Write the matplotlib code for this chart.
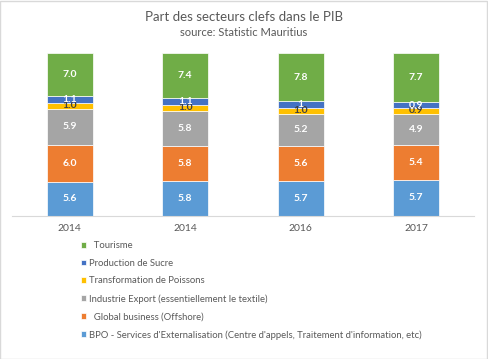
import matplotlib
matplotlib.use("Agg")
import matplotlib.pyplot as plt
from matplotlib.patches import Rectangle
import numpy as np

plt.rcParams['font.family'] = ['Lato', 'DejaVu Sans']

categories = ["2014", "2014", "2016", "2017"]
series_names = [
    "BPO - Services d'Externalisation (Centre d'appels, Traitement d'information, etc)",
    "  Global business (Offshore)",
    "Industrie Export (essentiellement le textile)",
    "Transformation de Poissons",
    "Production de Sucre",
    "  Tourisme",
]
bpo = [5.6, 5.8, 5.7, 5.7]
global_business = [6.0, 5.8, 5.6, 5.4]
industrie = [5.9, 5.8, 5.2, 4.9]
poissons = [1.0, 1.0, 1.0, 0.9]
sucre = [1.1, 1.1, 1, 0.9]
tourisme = [7.0, 7.4, 7.8, 7.7]
sucre_labels = ["1.1", "1.1", "1", "0.9"]

colors = ["#5B9BD5", "#ED7D31", "#A5A5A5", "#FFC000", "#4472C4", "#70AD47"]
label_colors = ["white", "white", "white", "#404040", "white", "white"]

data = np.array([bpo, global_business, industrie, poissons, sucre, tourisme], dtype=float)
totals = data.sum(axis=0)
shares = data / totals

fig = plt.figure(figsize=(4.88, 3.59), dpi=100)
fig.patch.set_facecolor("white")
fig.add_artist(Rectangle((0.001, 0.001), 0.997, 0.996, transform=fig.transFigure,
                         fill=False, edgecolor="#D9D9D9", linewidth=1.0))

ax = fig.add_axes([12/488, (359-216)/359, 462/488, (216-53)/359])
x = np.arange(len(categories))
bottom = np.zeros(len(categories))
bars = []
for i, (vals, name) in enumerate(zip(shares, series_names)):
    b = ax.bar(x, vals, 0.4, bottom=bottom, color=colors[i], label=name,
               edgecolor="white", linewidth=0.5)
    bars.append(b)
    for j in range(len(categories)):
        if i == 4:
            txt = sucre_labels[j]
        else:
            txt = f"{data[i, j]:.1f}"
        ax.text(x[j], bottom[j] + vals[j] / 2, txt, ha="center", va="center",
                fontsize=7.5, fontweight="bold", color=label_colors[i])
    bottom += vals

ax.set_xlim(-0.5, 3.5)
ax.set_ylim(0, 1)
ax.set_yticks([])
ax.set_xticks(x)
ax.set_xticklabels(categories, fontsize=7.5, color="#595959")
ax.tick_params(axis="x", length=0, pad=6)
for s in ["top", "right", "left"]:
    ax.spines[s].set_visible(False)
ax.spines["bottom"].set_color("#D9D9D9")
ax.spines["bottom"].set_linewidth(0.8)

fig.text(0.5, 1 - 17/359, "Part des secteurs clefs dans le PIB", ha="center", va="center",
         fontsize=9.5, color="#595959")
fig.text(0.5, 1 - 32/359, "source: Statistic Mauritius", ha="center", va="center",
         fontsize=8, color="#595959")

handles = [b for b in bars][::-1]
labels = series_names[::-1]
leg = fig.legend(handles, labels, loc="upper left", bbox_to_anchor=(81/488, 1 - 241/359),
                 frameon=False, fontsize=6.8, handlelength=0.55, handleheight=0.55,
                 handletextpad=0.25, labelspacing=0.92, borderpad=0, borderaxespad=0)
for t in leg.get_texts():
    t.set_color("#595959")

fig.savefig("out.png", dpi=100, facecolor="white")
